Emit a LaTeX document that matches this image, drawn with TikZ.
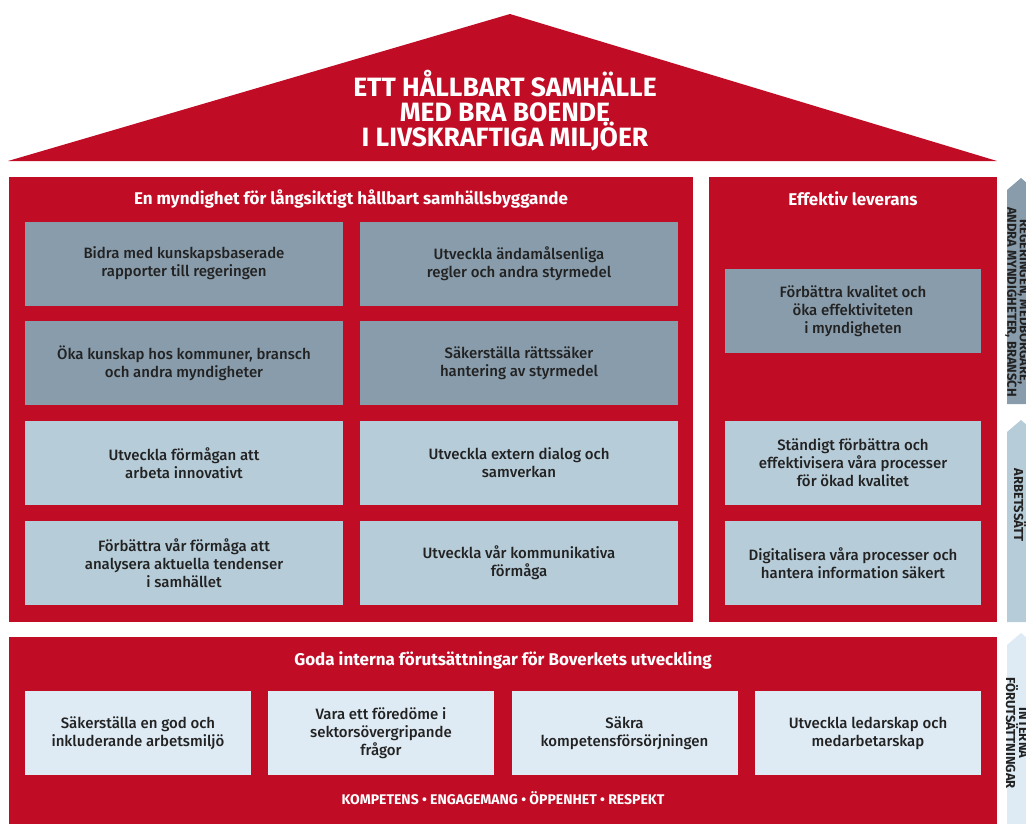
\documentclass[tikz,border=0pt]{standalone}
\usepackage{fontspec}
\setmainfont{Fira Sans}
\newfontfamily\medfont{Fira Sans Medium}
\usetikzlibrary{positioning}
\definecolor{bvred}{RGB}{193,12,38}
\definecolor{goalgrey}{RGB}{136,156,171}
\definecolor{waylight}{RGB}{183,204,217}
\definecolor{basepale}{RGB}{222,235,244}
\definecolor{boxtext}{RGB}{34,34,34}
\begin{document}
\begin{tikzpicture}[x=1pt,y=-1pt,
  panel/.style={fill=bvred},
  goal/.style={fill=goalgrey, text=boxtext, inner sep=0pt, align=center,
    minimum height=84pt, font=\medfont\fontsize{15}{18}\selectfont},
  way/.style={goal, fill=waylight},
  base/.style={goal, fill=basepale},
  heading/.style={text=white, font=\bfseries\fontsize{17}{19}\selectfont},
  sidearrow/.style={text=boxtext, rotate=-90, align=center,
    font=\bfseries\fontsize{13}{10}\selectfont}]
\clip (0,0) rectangle (1026,823);
\useasboundingbox (0,0) rectangle (1026,823);
% roof
\fill [bvred] (8,161) -- (510,14) -- (997,161) -- cycle;
\node (vision) at (505,111) [text=white, align=center, inner sep=0pt,
  font=\bfseries\fontsize{26.5}{25}\selectfont] {ETT HÅLLBART SAMHÄLLE\\MED BRA BOENDE\\I LIVSKRAFTIGA MILJÖER};
% panels
\fill [panel] (9,177) rectangle (693,622);
\fill [panel] (709,177) rectangle (997,622);
\fill [panel] (9,637) rectangle (997,830);
\node (longterm) at (351,199) [heading] {En myndighet för långsiktigt hållbart samhällsbyggande};
\node (delivery) at (853,199) [heading] {Effektiv leverans};
\node (internal) at (503,660) [heading] {Goda interna förutsättningar för Boverkets utveckling};
% left panel
\node (g1) at (184,263.5) [goal, minimum width=318pt] {Bidra med kunskapsbaserade\\rapporter till regeringen};
\node (g2) at (519,263.5) [goal, minimum width=318pt] {Utveckla ändamålsenliga\\regler och andra styrmedel};
\node (g3) at (184,363) [goal, minimum width=318pt] {Öka kunskap hos kommuner, bransch\\och andra myndigheter};
\node (g4) at (519,363) [goal, minimum width=318pt] {Säkerställa rättssäker\\hantering av styrmedel};
\node (w1) at (184,463) [way, minimum width=318pt] {Utveckla förmågan att\\arbeta innovativt};
\node (w2) at (519,463) [way, minimum width=318pt] {Utveckla extern dialog och\\samverkan};
\node (w3) at (184,563) [way, minimum width=318pt] {Förbättra vår förmåga att\\analysera aktuella tendenser\\i samhället};
\node (w4) at (519,563) [way, minimum width=318pt] {Utveckla vår kommunikativa\\förmåga};
% right panel
\node (g5) at (853,311) [goal, minimum width=256pt] {Förbättra kvalitet och\\öka effektiviteten\\i myndigheten};
\node (w5) at (853,463) [way, minimum width=256pt] {Ständigt förbättra och\\effektivisera våra processer\\för ökad kvalitet};
\node (w6) at (853,563) [way, minimum width=256pt] {Digitalisera våra processer och\\hantera information säkert};
% bottom panel
\node (b1) at (138,733) [base, minimum width=226pt] {Säkerställa en god och\\inkluderande arbetsmiljö};
\node (b2) at (381,733) [base, minimum width=226pt] {Vara ett föredöme i\\sektorsövergripande\\frågor};
\node (b3) at (624.5,733) [base, minimum width=226pt] {Säkra\\kompetensförsörjningen};
\node (b4) at (868,733) [base, minimum width=226pt] {Utveckla ledarskap och\\medarbetarskap};
\node (values) at (503,798) [text=white, font=\bfseries\fontsize{14}{15}\selectfont]
  {KOMPETENS • ENGAGEMANG • ÖPPENHET • RESPEKT};
% side arrows
\fill [goalgrey] (1007,404) -- (1007,190) -- (1021,178) -- (1035,190) -- (1035,404) -- cycle;
\fill [waylight] (1007,622) -- (1007,432) -- (1021,420) -- (1035,432) -- (1035,622) -- cycle;
\fill [basepale] (1007,830) -- (1007,645) -- (1021,633) -- (1035,645) -- (1035,830) -- cycle;
\node (whom) at (1017,302) [sidearrow] {REGERINGEN, MEDBORGARE,\\ANDRA MYNDIGHETER, BRANSCH};
\node (howwork) at (1020,505) [sidearrow] {ARBETSSÄTT};
\node (premises) at (1017,733) [sidearrow] {INTERNA\\FÖRUTSÄTTNINGAR};
\end{tikzpicture}
\end{document}
